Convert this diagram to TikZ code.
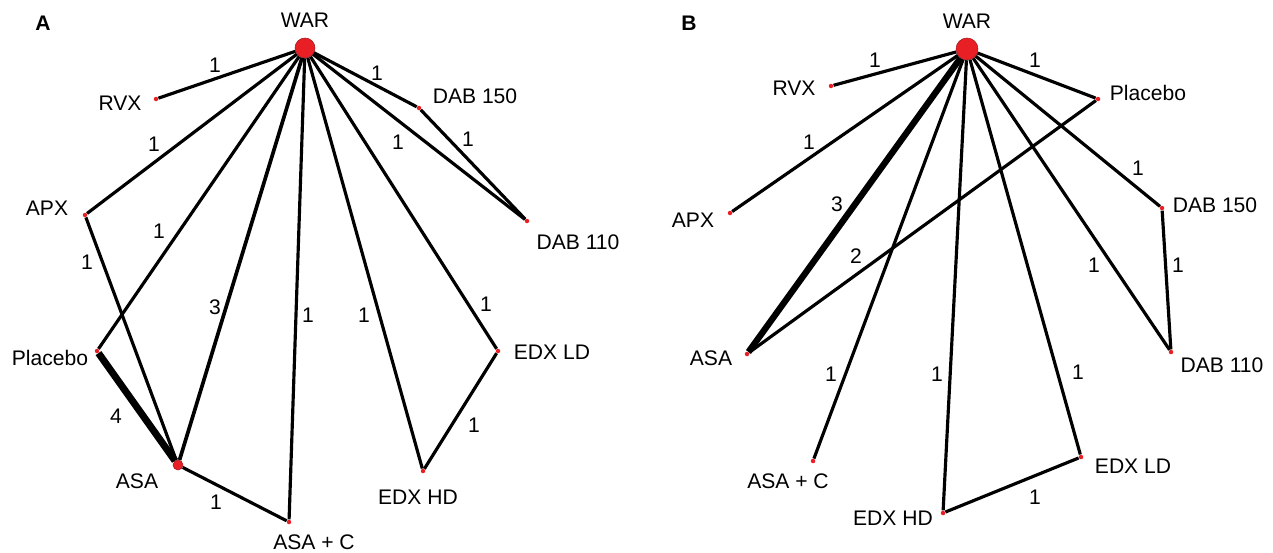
\documentclass[tikz,border=0pt]{standalone}
\usepackage{fontspec}
\setmainfont{Liberation Sans}
\definecolor{nodered}{RGB}{232,32,38}
\tikzset{
	hub/.style={circle, fill=nodered, draw=nodered!70!black, line width=0.3pt, inner sep=0pt, minimum size=#1},
	dot/.style={circle, fill=nodered, inner sep=0pt, minimum size=0.09cm},
	lbl/.style={font=\fontsize{12}{14}\selectfont, inner sep=0pt},
	num/.style={font=\fontsize{12}{14}\selectfont, inner sep=0pt},
	edge/.style={line width=1.8pt, black},
}
\begin{document}
\begin{tikzpicture}
	[x=0.02cm, y=-0.02cm]
	
	\useasboundingbox (0,0) rectangle (1273,552);
	
	% Panel A
	\node[lbl, font=\fontsize{12}{14}\selectfont\bfseries] (panA) at (43,23) {A};
	
	% Draw nodes of A
	\node[hub=0.4cm] (warA) at (305,48) {};
	\node[dot] (rvxA) at (156,99) {};
	\node[dot] (apxA) at (85,215) {};
	\node[dot] (dabhA) at (419,108) {};
	\node[dot] (dablA) at (527,221) {};
	\node[dot] (placA) at (97,351) {};
	\node[hub=0.2cm] (asaA) at (178,465) {};
	\node[dot] (asacA) at (289,522) {};
	\node[dot] (edxhA) at (423,471) {};
	\node[dot] (edxlA) at (498,351) {};
	
	% Names of A
	\node[lbl] (warAt) at (305,20) {WAR};
	\node[lbl] (rvxAt) at (120,103) {RVX};
	\node[lbl] (apxAt) at (47,208) {APX};
	\node[lbl] (dabhAt) at (475,96) {DAB 150};
	\node[lbl] (dablAt) at (578,242) {DAB 110};
	\node[lbl] (placAt) at (50,358) {Placebo};
	\node[lbl] (asaAt) at (137,481) {ASA};
	\node[lbl] (asacAt) at (314,542) {ASA + C};
	\node[lbl] (edxhAt) at (418,497) {EDX HD};
	\node[lbl] (edxlAt) at (552,352) {EDX LD};
	
	% Draw edges of A
	\draw[edge] (warA) -- (rvxA);
	\draw[edge] (warA) -- (apxA);
	\draw[edge] (warA) -- (placA);
	\draw[edge, line width=2.1pt] (warA) -- (asaA);
	\draw[edge] (warA) -- (asacA);
	\draw[edge] (warA) -- (edxhA);
	\draw[edge] (warA) -- (edxlA);
	\draw[edge] (warA) -- (dabhA);
	\draw[edge] (warA) -- (dablA);
	\draw[edge] (dabhA) -- (dablA);
	\draw[edge] (apxA) -- (asaA);
	\draw[edge, line width=4pt] (placA) -- (asaA);
	\draw[edge] (asaA) -- (asacA);
	\draw[edge] (edxhA) -- (edxlA);
	
	% Counts of A
	\node[num] (nA1) at (215,65) {1};
	\node[num] (nA2) at (154,144) {1};
	\node[num] (nA3) at (159,231) {1};
	\node[num] (nA4) at (87,262) {1};
	\node[num] (nA5) at (215,307) {3};
	\node[num] (nA6) at (308,315) {1};
	\node[num] (nA7) at (116,416) {4};
	\node[num] (nA8) at (216,502) {1};
	\node[num] (nA9) at (364,315) {1};
	\node[num] (nA10) at (486,304) {1};
	\node[num] (nA11) at (474,425) {1};
	\node[num] (nA12) at (377,73) {1};
	\node[num] (nA13) at (398,142) {1};
	\node[num] (nA14) at (468,139) {1};
	
	% Panel B
	\node[lbl, font=\fontsize{12}{14}\selectfont\bfseries] (panB) at (689,23) {B};
	
	% Draw nodes of B
	\node[hub=0.44cm] (warB) at (967,49) {};
	\node[dot] (rvxB) at (831,86) {};
	\node[dot] (apxB) at (730,213) {};
	\node[dot] (placB) at (1098,99) {};
	\node[dot] (dabhB) at (1162,208) {};
	\node[dot] (dablB) at (1171,352) {};
	\node[dot] (edxlB) at (1081,457) {};
	\node[dot] (asaB) at (747,354) {};
	\node[dot] (asacB) at (813,461) {};
	\node[dot] (edxhB) at (943,513) {};
	
	% Names of B
	\node[lbl] (warBt) at (967,21) {WAR};
	\node[lbl] (rvxBt) at (794,88) {RVX};
	\node[lbl] (apxBt) at (693,220) {APX};
	\node[lbl] (placBt) at (1148,93) {Placebo};
	\node[lbl] (dabhBt) at (1215,205) {DAB 150};
	\node[lbl] (dablBt) at (1222,365) {DAB 110};
	\node[lbl] (edxlBt) at (1133,466) {EDX LD};
	\node[lbl] (asaBt) at (711,358) {ASA};
	\node[lbl] (asacBt) at (788,481) {ASA + C};
	\node[lbl] (edxhBt) at (893,518) {EDX HD};
	
	% Draw edges of B
	\draw[edge] (warB) -- (rvxB);
	\draw[edge] (warB) -- (apxB);
	\draw[edge, line width=3.6pt] (warB) -- (asaB);
	\draw[edge] (placB) -- (asaB);
	\draw[edge] (warB) -- (asacB);
	\draw[edge] (warB) -- (edxhB);
	\draw[edge] (warB) -- (edxlB);
	\draw[edge] (warB) -- (placB);
	\draw[edge] (warB) -- (dabhB);
	\draw[edge] (warB) -- (dablB);
	\draw[edge] (dabhB) -- (dablB);
	\draw[edge] (edxhB) -- (edxlB);
	
	% Counts of B
	\node[num] (nB1) at (875,60) {1};
	\node[num] (nB2) at (809,142) {1};
	\node[num] (nB3) at (837,204) {3};
	\node[num] (nB4) at (856,256) {2};
	\node[num] (nB5) at (831,374) {1};
	\node[num] (nB6) at (937,374) {1};
	\node[num] (nB7) at (1035,60) {1};
	\node[num] (nB8) at (1138,168) {1};
	\node[num] (nB9) at (1094,265) {1};
	\node[num] (nB10) at (1178,265) {1};
	\node[num] (nB11) at (1078,372) {1};
	\node[num] (nB12) at (1035,497) {1};
	
\end{tikzpicture}
\end{document}
